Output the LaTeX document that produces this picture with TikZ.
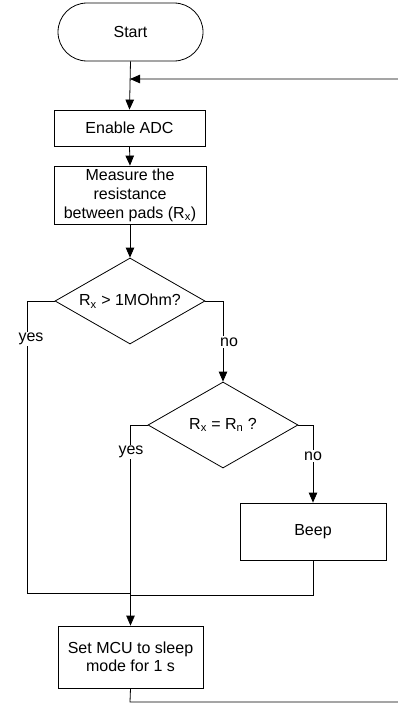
\documentclass[tikz,border=0pt]{standalone}
\usepackage{fontspec}
\setmainfont{Liberation Sans}
\usetikzlibrary{arrows.meta,shapes.geometric}
\begin{document}
\begin{tikzpicture}[x=1pt,y=-1pt,
  font=\fontsize{16}{19}\selectfont,
  line width=0.8pt, color=black, text=black,
  procbox/.style={draw, rectangle, inner sep=0pt, align=center},
  termbox/.style={draw, rectangle, rounded corners=29pt, inner sep=0pt, minimum width=145pt, minimum height=58pt},
  decbox/.style={draw, diamond, inner sep=0pt, aspect=1.74, minimum width=150pt, minimum height=86pt},
  lbl/.style={fill=white, inner sep=1.5pt},
  arr/.style={-{Triangle[length=10pt,width=8.5pt]}}]
\useasboundingbox (0,0) rectangle (398,704);
\clip (0,0) rectangle (398,704);
\node[termbox] (start) at (130.5,32) {Start};
\node[procbox, minimum width=151pt, minimum height=36pt] (enable) at (129.5,128) {Enable ADC};
\node[procbox, minimum width=152pt, minimum height=58pt] (measure) at (130,195) {Measure the\\resistance\\between pads (R\textsubscript{x})};
\node[decbox] (d1) at (130,301) {R\textsubscript{x} > 1MOhm?};
\node[decbox] (d2) at (223,425) {R\textsubscript{x} = R\textsubscript{n} ?};
\node[procbox, minimum width=146pt, minimum height=57pt] (beep) at (313,531.5) {Beep};
\node[procbox, minimum width=145pt, minimum height=62pt, font=\fontsize{16}{18}\selectfont] (sleep) at (130.5,657) {Set MCU to sleep\\mode for 1 s};
\coordinate (j0) at (130,79);
\coordinate (j1) at (130,593);
\coordinate (j2) at (130,595);
\coordinate (y1) at (27,593);
\coordinate (b1) at (130,702);
\coordinate (r1) at (420,702);
\coordinate (r2) at (420,79);
\draw[arr] (start.south) -- (enable.north);
\draw[arr] (enable.south) -- (measure.north);
\draw[arr] (measure.south) -- (d1.north);
\draw (d1.west) -| (y1) -- (j1);
\draw[arr] (d1.east) -| (d2.north);
\draw[arr] (d2.west) -| (sleep.north);
\draw[arr] (d2.east) -| (beep.north);
\draw (beep.south) |- (j2);
\draw[arr] (sleep.south) -- (b1) -- (r1) -- (r2) -- (j0);
\node[lbl] (lyes1) at (31,339) {yes};
\node[lbl] (lno1) at (229,342) {no};
\node[lbl] (lyes2) at (131,452) {yes};
\node[lbl] (lno2) at (313,456) {no};
\end{tikzpicture}
\end{document}
